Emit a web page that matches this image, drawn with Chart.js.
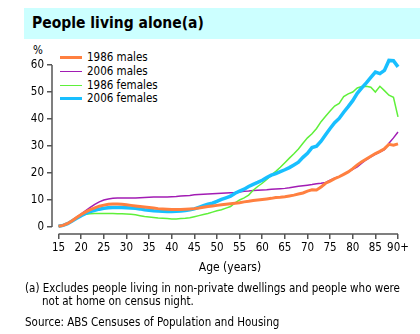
<!DOCTYPE html>
<html>
<head>
<meta charset="utf-8">
<script src="https://cdn.jsdelivr.net/npm/chart.js@4.4.0/dist/chart.umd.min.js"></script>
<style>
  body { margin: 0; background: #fff; }
  #wrap { position: relative; width: 420px; height: 334px; overflow: hidden;
    font-family: 'DejaVu Sans Condensed', 'DejaVu Sans', sans-serif; color: #000; }
  #chart { position: absolute; left: 0; top: 0; }
  #title { position: absolute; left: 24px; top: 8px; width: 396px; height: 31px; background: #ccffff;
    font-weight: bold; font-size: 15.5px; line-height: 31px; padding-left: 8px; box-sizing: border-box; }
  .txt { position: absolute; font-size: 11.5px; white-space: nowrap; line-height: 14px; }
  .leg { position: absolute; left: 60px; font-size: 11.5px; white-space: nowrap; line-height: 14px; }
  .leg span { display: inline-block; width: 22px; vertical-align: middle; margin-right: 5px; }
</style>
</head>
<body>
<div id="wrap">
  <div id="title">People living alone(a)</div>
  <div class="txt" style="left:33px;top:43px;">%</div>
  <div id="legend"></div>
  <canvas id="chart" width="420" height="334"></canvas>
  <div class="txt" style="left:0;width:460px;text-align:center;top:260px;font-size:12px;">Age (years)</div>
  <div class="txt" style="left:25px;top:281px;">(a) Excludes people living in non-private dwellings and people who were</div>
  <div class="txt" style="left:42px;top:294px;">not at home on census night.</div>
  <div class="txt" style="left:25px;top:315px;">Source: ABS Censuses of Population and Housing</div>
</div>
<script>
// age in single years, 90 = 90+
var ages = [15,16,17,18,19,20,21,22,23,24,25,26,27,28,29,30,31,32,33,34,35,36,37,38,39,40,
  41,42,43,44,45,46,47,48,49,50,51,52,53,54,55,56,57,58,59,60,61,62,63,64,65,
  66,67,68,69,70,71,72,73,74,75,76,77,78,79,80,81,82,83,84,85,86,87,88,89,90];

var males1986 = [0.3,0.6,1.3,2.3,3.5,4.6,5.6,6.4,7.1,7.7,8.1,8.4,8.5,8.5,8.4,8.2,8.0,7.8,7.6,7.4,
  7.2,7.0,6.8,6.7,6.6,6.5,6.5,6.5,6.6,6.7,6.8,7.0,7.3,7.6,7.8,8.0,8.2,8.4,8.6,8.8,
  9.0,9.3,9.5,9.8,10.0,10.2,10.4,10.6,10.9,11.0,11.2,11.5,11.8,12.2,12.6,13.3,13.8,13.7,14.8,16.2,
  17.0,17.9,18.6,19.5,20.4,21.6,23.0,24.2,25.2,26.2,27.2,28.0,29.0,30.6,30.3,30.8];

var males2006 = [0.3,0.6,1.3,2.4,3.6,4.9,6.1,7.3,8.4,9.3,10.0,10.4,10.6,10.7,10.7,10.7,10.7,10.7,10.8,10.9,
  11.0,11.1,11.1,11.1,11.1,11.2,11.3,11.5,11.6,11.7,11.9,12.0,12.1,12.2,12.3,12.4,12.5,12.6,12.7,12.8,
  13.0,13.2,13.3,13.5,13.6,13.7,13.8,14.0,14.1,14.2,14.3,14.5,14.8,15.1,15.3,15.5,15.7,16.0,16.2,16.5,
  17.3,18.1,18.7,19.5,20.3,21.3,22.3,23.6,24.9,26.0,26.9,27.7,28.6,31.0,33.0,35.2];

var females1986 = [0.3,0.6,1.3,2.4,3.4,4.2,4.7,4.9,5.0,5.0,5.0,5.0,5.0,4.9,4.9,4.8,4.7,4.5,4.2,3.9,
  3.7,3.5,3.3,3.2,3.1,3.0,3.0,3.1,3.2,3.4,3.8,4.2,4.6,5.0,5.5,6.0,6.4,7.0,7.6,8.9,
  10.0,10.8,11.8,13.6,15.0,16.2,17.6,19.2,20.6,22.1,23.8,25.5,27.1,28.9,31.0,33.0,34.5,36.5,39.0,41.0,
  43.0,44.8,45.8,48.3,49.3,50.0,51.5,52.0,52.1,51.8,50.0,52.1,50.5,48.8,48.0,40.8];

var females2006 = [0.3,0.6,1.2,2.2,3.2,4.2,5.0,5.7,6.2,6.6,6.9,7.1,7.2,7.2,7.2,7.1,7.0,6.9,6.7,6.4,
  6.2,6.0,5.9,5.8,5.7,5.7,5.8,5.9,6.1,6.4,6.7,7.3,7.9,8.4,8.8,9.5,10.2,10.8,11.4,12.5,
  13.3,14.0,15.0,15.8,16.5,17.3,18.3,19.2,19.8,20.5,21.2,22.0,23.0,24.0,25.8,27.3,29.4,29.9,31.8,34.2,
  36.5,38.6,40.2,42.5,44.6,46.8,49.5,51.5,53.4,55.4,57.4,56.8,58.0,61.7,61.6,59.3];

var seriesNames = ['1986 males', '2006 males', '1986 females', '2006 females'];
var xTicks = [15,20,25,30,35,40,45,50,55,60,65,70,75,80,85,90];
var yTicks = [0,10,20,30,40,50,60];

var colors = ['#ff8040', '#a21cb4', '#5ff03a', '#18bfff'];
var widths = [3, 1.5, 1.5, 3.5];
var order = [0, 3, 2, 1];
var allValues = [males1986, males2006, females1986, females2006];

var FONT = "'DejaVu Sans Condensed', 'DejaVu Sans', sans-serif";

// legend
var legendTops = [50, 64, 78, 91];
var legendEl = document.getElementById('legend');
seriesNames.forEach(function(name, i) {
  var d = document.createElement('div');
  d.className = 'leg';
  d.style.top = legendTops[i] + 'px';
  d.innerHTML = '<span style="border-top:' + widths[i] + 'px solid ' + colors[i] + '"></span>' + name;
  legendEl.appendChild(d);
});

var datasets = allValues.map(function(vals, i) {
  return {
    label: seriesNames[i],
    data: vals.map(function(v, j) { return { x: ages[j], y: v }; }),
    borderColor: colors[i],
    borderWidth: widths[i],
    pointRadius: 0,
    tension: 0,
    fill: false,
    clip: false,
    order: order[i]
  };
});

// axis lines only span the labelled range, like the original
var axisLines = {
  id: 'axisLines',
  beforeDatasetsDraw: function(chart) {
    var ctx = chart.ctx, x = chart.scales.x, y = chart.scales.y, a = chart.chartArea;
    ctx.save();
    ctx.strokeStyle = '#555';
    ctx.lineWidth = 1.5;
    ctx.beginPath();
    ctx.moveTo(a.left, y.getPixelForValue(60));
    ctx.lineTo(a.left, y.getPixelForValue(0));
    ctx.moveTo(x.getPixelForValue(15), a.bottom);
    ctx.lineTo(x.getPixelForValue(90), a.bottom);
    ctx.stroke();
    ctx.restore();
  }
};

new Chart(document.getElementById('chart'), {
  type: 'line',
  data: { datasets: datasets },
  plugins: [axisLines],
  options: {
    responsive: false,
    animation: false,
    layout: { padding: { top: 65, right: 22, left: 0, bottom: 0 } },
    plugins: { legend: { display: false }, tooltip: { enabled: false } },
    scales: {
      x: {
        type: 'linear',
        min: 13.55,
        max: 90,
        afterBuildTicks: function(axis) { axis.ticks = xTicks.map(function(v) { return { value: v }; }); },
        afterFit: function(axis) { axis.height = 100; },
        border: { display: false },
        grid: { drawOnChartArea: false, drawTicks: true, tickLength: 5, color: '#555', lineWidth: 1.5 },
        ticks: {
          color: '#000', padding: 2, maxRotation: 0, autoSkip: false,
          font: { family: FONT, size: 11.5 },
          callback: function(v) { return v === 90 ? '90+' : v; }
        }
      },
      y: {
        min: -2.6,
        max: 60,
        afterBuildTicks: function(axis) { axis.ticks = yTicks.map(function(v) { return { value: v }; }); },
        afterFit: function(axis) { axis.width = 52; },
        border: { display: false },
        grid: { drawOnChartArea: false, drawTicks: true, tickLength: 5, color: '#555', lineWidth: 1.5 },
        ticks: { color: '#000', padding: 3, font: { family: FONT, size: 11.5 } }
      }
    }
  }
});
</script>
</body>
</html>
